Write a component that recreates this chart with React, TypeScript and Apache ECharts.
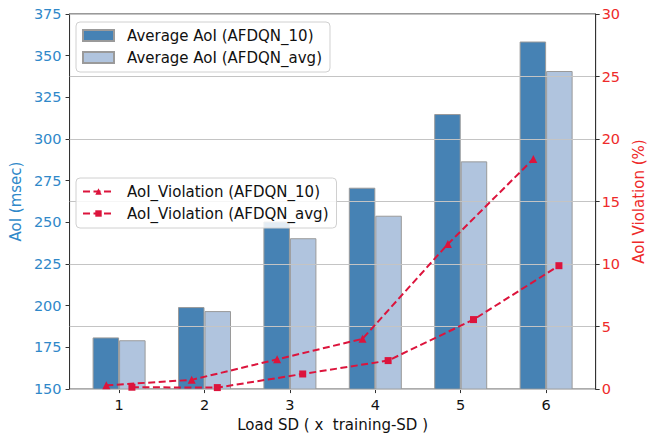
import React, { useEffect, useRef } from "react";
import * as echarts from "echarts";

const categories = [1, 2, 3, 4, 5, 6];
const aoiAfdqn10 = [181, 199.2, 250.5, 270.8, 315, 358.5];
const aoiAfdqnAvg = [179.3, 196.8, 240.5, 254, 286.6, 340.8];
const violAfdqn10 = [0.3, 0.74, 2.38, 4.02, 11.6, 18.4];
const violAfdqnAvg = [0.15, 0.12, 1.21, 2.28, 5.56, 9.87];
const leftTicks = [150, 175, 200, 225, 250, 275, 300, 325, 350, 375];
const rightTicks = [0, 5, 10, 15, 20, 25, 30];

const FONT = "DejaVu Sans";
const BLUE_TXT = "#2f88c9";
const RED_TXT = "#ee2a2a";
const LINE_RED = "#dc143c";

export default function App() {
  const ref = useRef<HTMLDivElement>(null);
  useEffect(() => {
    if (!ref.current) return;
    const chart = echarts.init(ref.current, null, { renderer: "svg" });
    const offset = 0.15;
    const legendBase = {
      orient: "vertical",
      left: 76,
      itemWidth: 31,
      itemGap: 7,
      padding: [6, 8, 7, 6],
      backgroundColor: "rgba(255,255,255,0.85)",
      borderColor: "#d0d0d0",
      borderWidth: 1,
      borderRadius: 4,
      textStyle: { fontFamily: FONT, fontSize: 15, color: "#111", padding: [0, 0, 0, 8] },
    };
    chart.setOption({
      animation: false,
      textStyle: { fontFamily: FONT },
      grid: {
        left: 68,
        right: 42,
        top: 14,
        bottom: 45,
        show: true,
        borderColor: "#333",
        borderWidth: 1,
        backgroundColor: "transparent",
      },
      legend: [
        {
          ...legendBase,
          data: ["Average AoI (AFDQN_10)", "Average AoI (AFDQN_avg)"],
          top: 22,
          icon: "rect",
          itemHeight: 11,
        },
        {
          ...legendBase,
          data: ["AoI_Violation (AFDQN_10)", "AoI_Violation (AFDQN_avg)"],
          top: 178,
          itemHeight: 8,
        },
      ],
      xAxis: {
        type: "value",
        min: 0.42,
        max: 6.58,
        name: "Load SD ( x  training-SD )",
        nameLocation: "middle",
        nameGap: 24,
        nameTextStyle: { fontFamily: FONT, fontSize: 15, color: "#111" },
        axisLine: { show: true, lineStyle: { color: "#333" } },
        axisTick: { show: true, length: 4, customValues: categories, lineStyle: { color: "#333" } },
        axisLabel: {
          customValues: categories,
          margin: 8,
          fontFamily: FONT,
          fontSize: 14.5,
          color: "#111",
        },
        splitLine: { show: false },
      },
      yAxis: [
        {
          type: "value",
          min: leftTicks[0],
          max: leftTicks[leftTicks.length - 1],
          interval: 25,
          position: "left",
          name: "AoI (msec)",
          nameLocation: "middle",
          nameRotate: 90,
          nameGap: 42,
          nameTextStyle: { fontFamily: FONT, fontSize: 15, color: BLUE_TXT },
          axisLine: { show: true, lineStyle: { color: "#333" } },
          axisTick: { show: true, length: 4, lineStyle: { color: "#333" } },
          axisLabel: { margin: 8, fontFamily: FONT, fontSize: 14.5, color: BLUE_TXT },
          splitLine: { show: false },
        },
        {
          type: "value",
          min: rightTicks[0],
          max: rightTicks[rightTicks.length - 1],
          interval: 5,
          position: "right",
          z: 3,
          name: "AoI Violation (%)",
          nameLocation: "middle",
          nameRotate: 90,
          nameGap: 25,
          nameTextStyle: { fontFamily: FONT, fontSize: 15, color: RED_TXT },
          axisLine: { show: true, lineStyle: { color: "#333" } },
          axisTick: { show: true, length: 4, lineStyle: { color: "#333" } },
          axisLabel: { margin: 6, fontFamily: FONT, fontSize: 14.5, color: RED_TXT },
          splitLine: { show: true, lineStyle: { color: "#c4c4c4", width: 1 } },
        },
      ],
      series: [
        {
          name: "Average AoI (AFDQN_10)",
          type: "bar",
          yAxisIndex: 0,
          barWidth: 26.5,
          barGap: "0%",
          data: categories.map((c, i) => [c, aoiAfdqn10[i]]),
          itemStyle: { color: "#4682b4", borderColor: "#9a9a9a", borderWidth: 1 },
        },
        {
          name: "Average AoI (AFDQN_avg)",
          type: "bar",
          yAxisIndex: 0,
          barWidth: 26.5,
          barGap: "0%",
          data: categories.map((c, i) => [c, aoiAfdqnAvg[i]]),
          itemStyle: { color: "#b0c4de", borderColor: "#9a9a9a", borderWidth: 1 },
        },
        {
          name: "AoI_Violation (AFDQN_10)",
          type: "line",
          yAxisIndex: 1,
          z: 5,
          symbol: "triangle",
          symbolSize: 8,
          data: categories.map((c, i) => [c - offset, violAfdqn10[i]]),
          lineStyle: { color: LINE_RED, width: 2, type: [7, 3.5] },
          itemStyle: { color: LINE_RED },
        },
        {
          name: "AoI_Violation (AFDQN_avg)",
          type: "line",
          yAxisIndex: 1,
          z: 5,
          symbol: "rect",
          symbolSize: 7,
          data: categories.map((c, i) => [c + offset, violAfdqnAvg[i]]),
          lineStyle: { color: LINE_RED, width: 2, type: [7, 3.5] },
          itemStyle: { color: LINE_RED },
        },
      ],
    });
    return () => chart.dispose();
  }, []);
  return <div ref={ref} style={{ width: 654, height: 437, position: "absolute", left: 0, top: 0 }} />;
}
